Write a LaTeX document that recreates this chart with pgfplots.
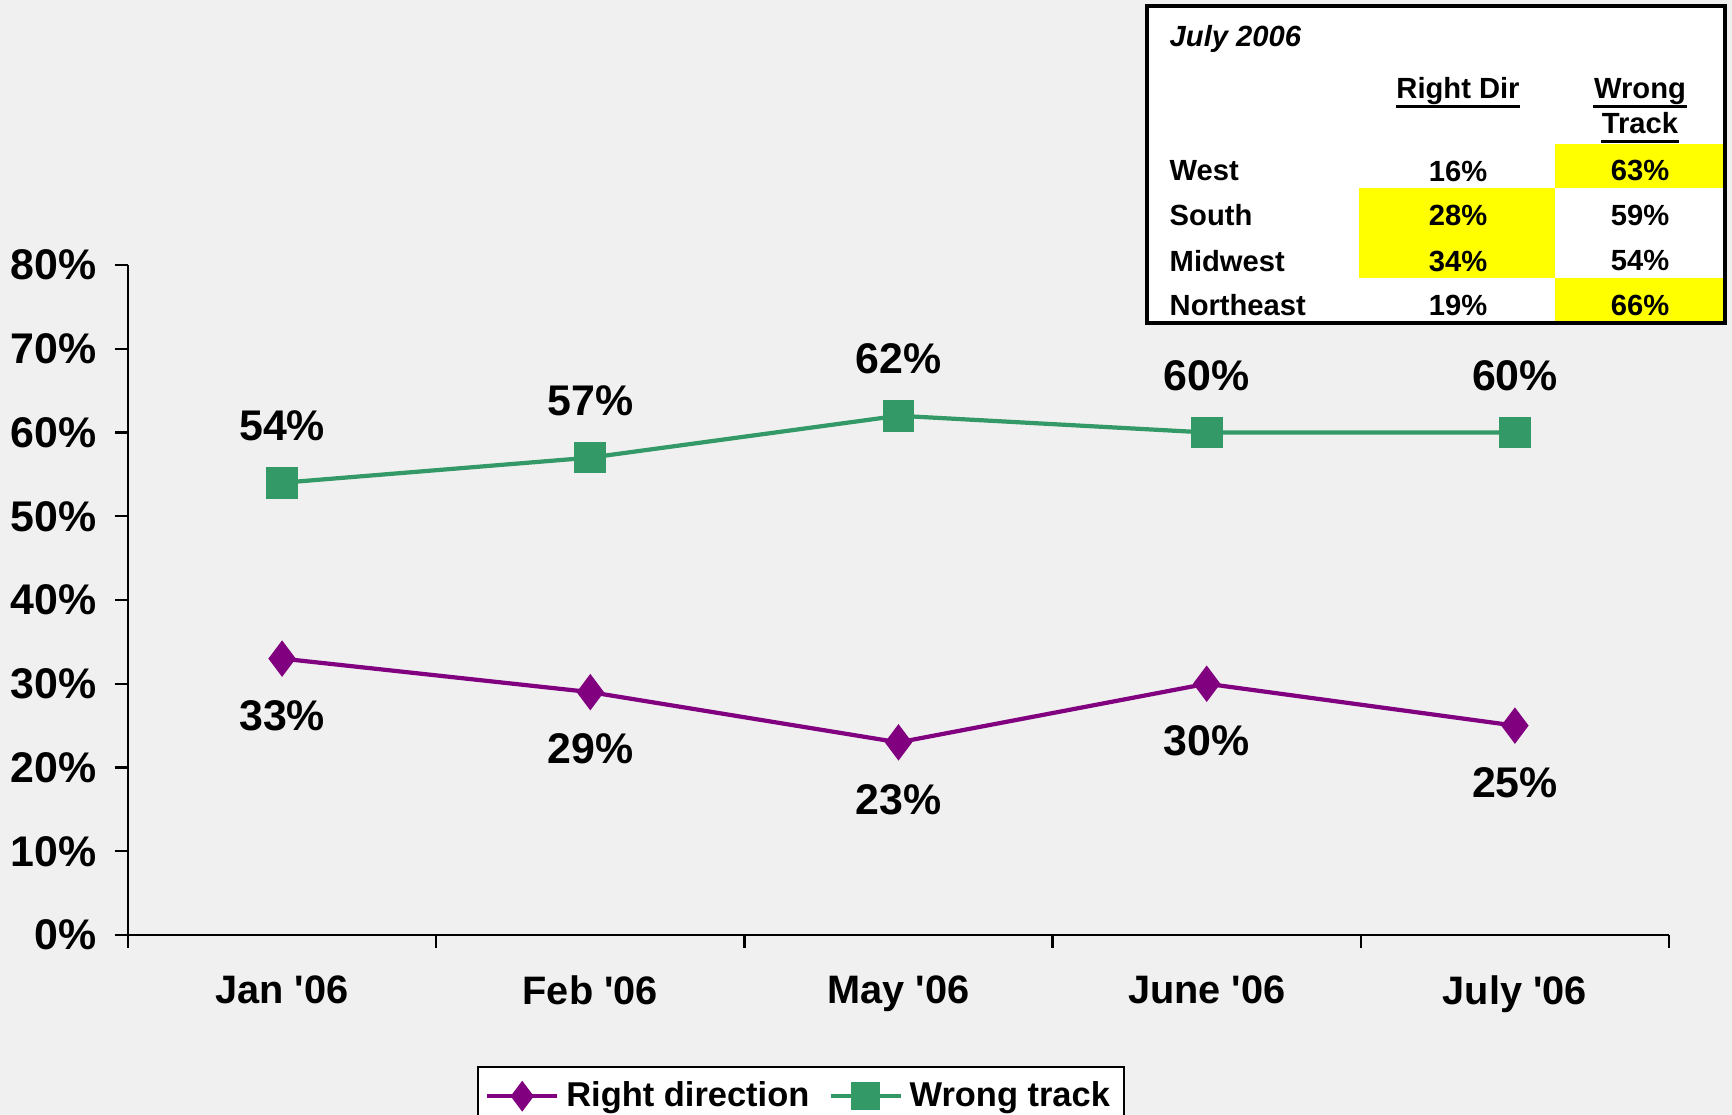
\documentclass[border=0pt]{standalone}
\usepackage{pgfplots}
\pgfplotsset{compat=1.18}
\usepackage{fontspec}
\setmainfont{Liberation Sans}
\definecolor{rdpurple}{HTML}{800080}
\definecolor{wtgreen}{HTML}{339966}
\definecolor{bggray}{HTML}{F0F0F0}
\definecolor{hl}{HTML}{FFFF00}
\newcommand{\chartfont}{\fontsize{12.2}{14}\selectfont\bfseries}
\newcommand{\catfont}{\fontsize{11.3}{13.5}\selectfont\bfseries}
\newcommand{\legfont}{\fontsize{9.8}{12}\selectfont\bfseries}
\newcommand{\tabfont}{\fontsize{8.3}{10}\selectfont\bfseries}
\newcommand{\q}{\textquotesingle}

\begin{document}
\begin{tikzpicture}
\fill[bggray] (0,0) rectangle (17.32,11.15);
\clip (0,0) rectangle (17.32,11.15);
\begin{axis}[
  at={(1.28cm,1.80cm)}, anchor=south west,
  scale only axis, width=15.41cm, height=6.70cm,
  xmin=-0.5, xmax=4.5, ymin=0, ymax=80,
  axis x line*=bottom, axis y line*=left,
  axis line style={line width=0.7pt},
  tick align=outside,
  major tick length=0.13cm,
  tick style={black, line width=0.7pt},
  /pgf/number format/assume math mode=true,
  ytick={0,10,...,80},
  yticklabels={0\%,10\%,20\%,30\%,40\%,50\%,60\%,70\%,80\%},
  yticklabel style={font=\chartfont, xshift=-0.06cm},
  xtick={-0.5,0.5,1.5,2.5,3.5,4.5}, xticklabels={},
  extra x ticks={0,1,2,3,4},
  extra x tick labels={Jan \q06,Feb \q06,May \q06,June \q06,July \q06},
  extra x tick style={tick style={draw=none},
    xticklabel style={font=\catfont, yshift=-0.15cm}},
  legend style={at={(0.2265,-0.1955)}, anchor=north west, draw=black,
    fill=white, font=\legfont, line width=0.6pt, inner xsep=2pt,
    /tikz/every even column/.append style={column sep=0.12cm}},
  legend columns=2,
  legend cell align=left,
  legend image code/.code={
    \draw[mark repeat=2,mark phase=2, mark size=3.4pt] plot coordinates {(0cm,0cm)(0.35cm,0cm)(0.7cm,0cm)};
  },
]
\addplot[rdpurple, line width=1.2pt, mark=diamond*, mark size=4.2pt,
  nodes near coords={\pgfmathprintnumber{\pgfplotspointmeta}\%},
  nodes near coords style={font=\chartfont, text=black, anchor=center, yshift=-0.57cm}]
  coordinates {(0,33) (1,29) (2,23) (3,30) (4,25)};
\addlegendentry{Right direction}
\addplot[wtgreen, line width=1.2pt, mark=square*, mark size=3.9pt,
  nodes near coords={\pgfmathprintnumber{\pgfplotspointmeta}\%},
  nodes near coords style={font=\chartfont, text=black, anchor=center, yshift=0.57cm}]
  coordinates {(0,54) (1,57) (2,62) (3,60) (4,60)};
\addlegendentry{Wrong track}
\end{axis}
% regional table, July 2006
\fill[white] (11.47,11.09) rectangle (17.25,7.92);
\fill[hl] (15.55,9.71) rectangle (17.23,9.27);
\fill[hl] (13.59,9.27) rectangle (15.55,8.81);
\fill[hl] (13.59,8.81) rectangle (15.55,8.37);
\fill[hl] (15.55,8.37) rectangle (17.23,7.94);
\draw[black, line width=1.3pt] (11.47,11.09) rectangle (17.25,7.92);
\begin{scope}[every node/.style={font=\tabfont, inner sep=0pt}]
\node[anchor=west] at (11.69,10.76) {\itshape July 2006};
\node (h1) at (14.58,10.235) {Right Dir};
\node (h2) at (16.40,10.235) {Wrong};
\node (h3) at (16.40,9.915) {Track};
\foreach \h in {h1,h2,h3}
  \draw[line width=0.9pt] ([yshift=-2.2pt]\h.base west) -- ([yshift=-2.2pt]\h.base east);
\node[anchor=west] at (11.69,9.44) {West};
\node[anchor=west] at (11.69,9.00) {South};
\node[anchor=west] at (11.69,8.54) {Midwest};
\node[anchor=west] at (11.69,8.10) {Northeast};
\node at (14.58,9.44) {16\%};
\node at (14.58,9.00) {28\%};
\node at (14.58,8.54) {34\%};
\node at (14.58,8.10) {19\%};
\node at (16.40,9.44) {63\%};
\node at (16.40,9.00) {59\%};
\node at (16.40,8.54) {54\%};
\node at (16.40,8.10) {66\%};
\end{scope}
\end{tikzpicture}
\end{document}
